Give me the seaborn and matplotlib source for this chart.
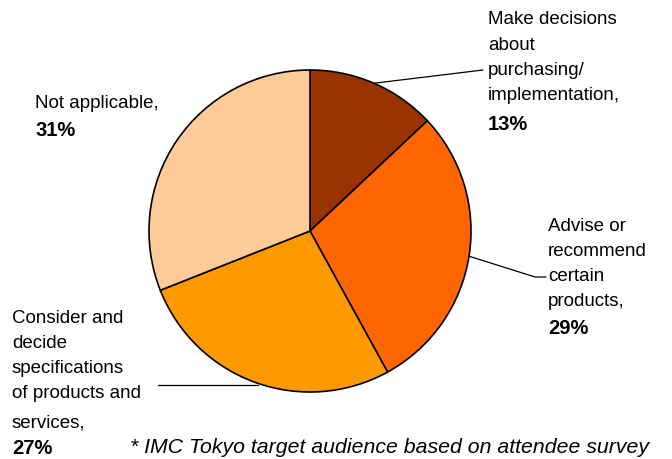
import matplotlib
matplotlib.use("Agg")
import matplotlib.pyplot as plt
import seaborn as sns
import numpy as np

# ---- data ----
categories = [
    "Make decisions about purchasing/implementation",
    "Advise or recommend certain products",
    "Consider and decide specifications of products and services",
    "Not applicable",
]
shares = [13, 29, 27, 31]
colors = ["#993300", "#FF6600", "#FF9900", "#FFCC99"]
label_lines = [
    ["Make decisions", "about", "purchasing/", "implementation,"],
    ["Advise or", "recommend", "certain", "products,"],
    ["Consider and", "decide", "specifications", "of products and", "services,"],
    ["Not applicable,"],
]
pct_labels = [f"{v}%" for v in shares]
footnote = "* IMC Tokyo target audience based on attendee survey"

# ---- style ----
sns.set_theme(style="white")
plt.rcParams["font.family"] = ["Liberation Sans", "DejaVu Sans"]

W, H = 672, 459
fig = plt.figure(figsize=(W / 100, H / 100), dpi=100)
ax = fig.add_axes([0, 0, 1, 1])

def Y(y):
    return H - y

cx, cy, R = 310, 231, 161
wedges, _ = ax.pie(shares, colors=colors, startangle=90, counterclock=False,
                   center=(cx, Y(cy)), radius=R,
                   wedgeprops=dict(edgecolor="black", linewidth=1.2))
ax.set_xlim(0, W)
ax.set_ylim(0, H)
ax.set_aspect("equal")
ax.axis("off")

def edge_point(w):
    a = np.deg2rad((w.theta1 + w.theta2) / 2)
    return cx + R * np.cos(a), Y(cy) + R * np.sin(a)

lw = 0.9
# leader 13%
ex, ey = edge_point(wedges[0])
ax.plot([ex, 483], [ey, Y(70)], color="black", lw=lw)
# leader 29%
ex, ey = edge_point(wedges[1])
ax.plot([ex, 535, 546], [ey, Y(277), Y(277)], color="black", lw=lw)
# leader 27%
ex, ey = edge_point(wedges[2])
ax.plot([ex + 3, 158], [Y(385), Y(385)], color="black", lw=lw)

fs = 13.5
fs_pct = 14.5
label_pos = [
    (488, [24, 49.5, 75, 100.5], 130),
    (548, [231, 256, 281, 306], 334),
    (12, [323, 348, 373, 398, 427], 454),
    (35, [108], 136),
]
for lines, pct, (x, ys, ypct) in zip(label_lines, pct_labels, label_pos):
    for ln, yy in zip(lines, ys):
        ax.text(x, Y(yy), ln, fontsize=fs, va="baseline", ha="left", color="black")
    ax.text(x, Y(ypct), pct, fontsize=fs_pct, fontweight="bold", va="baseline",
            ha="left", color="black")

ax.text(130, Y(453), footnote, fontsize=15.3, style="italic", va="baseline",
        ha="left", color="black")

fig.savefig("out.png", dpi=100)
